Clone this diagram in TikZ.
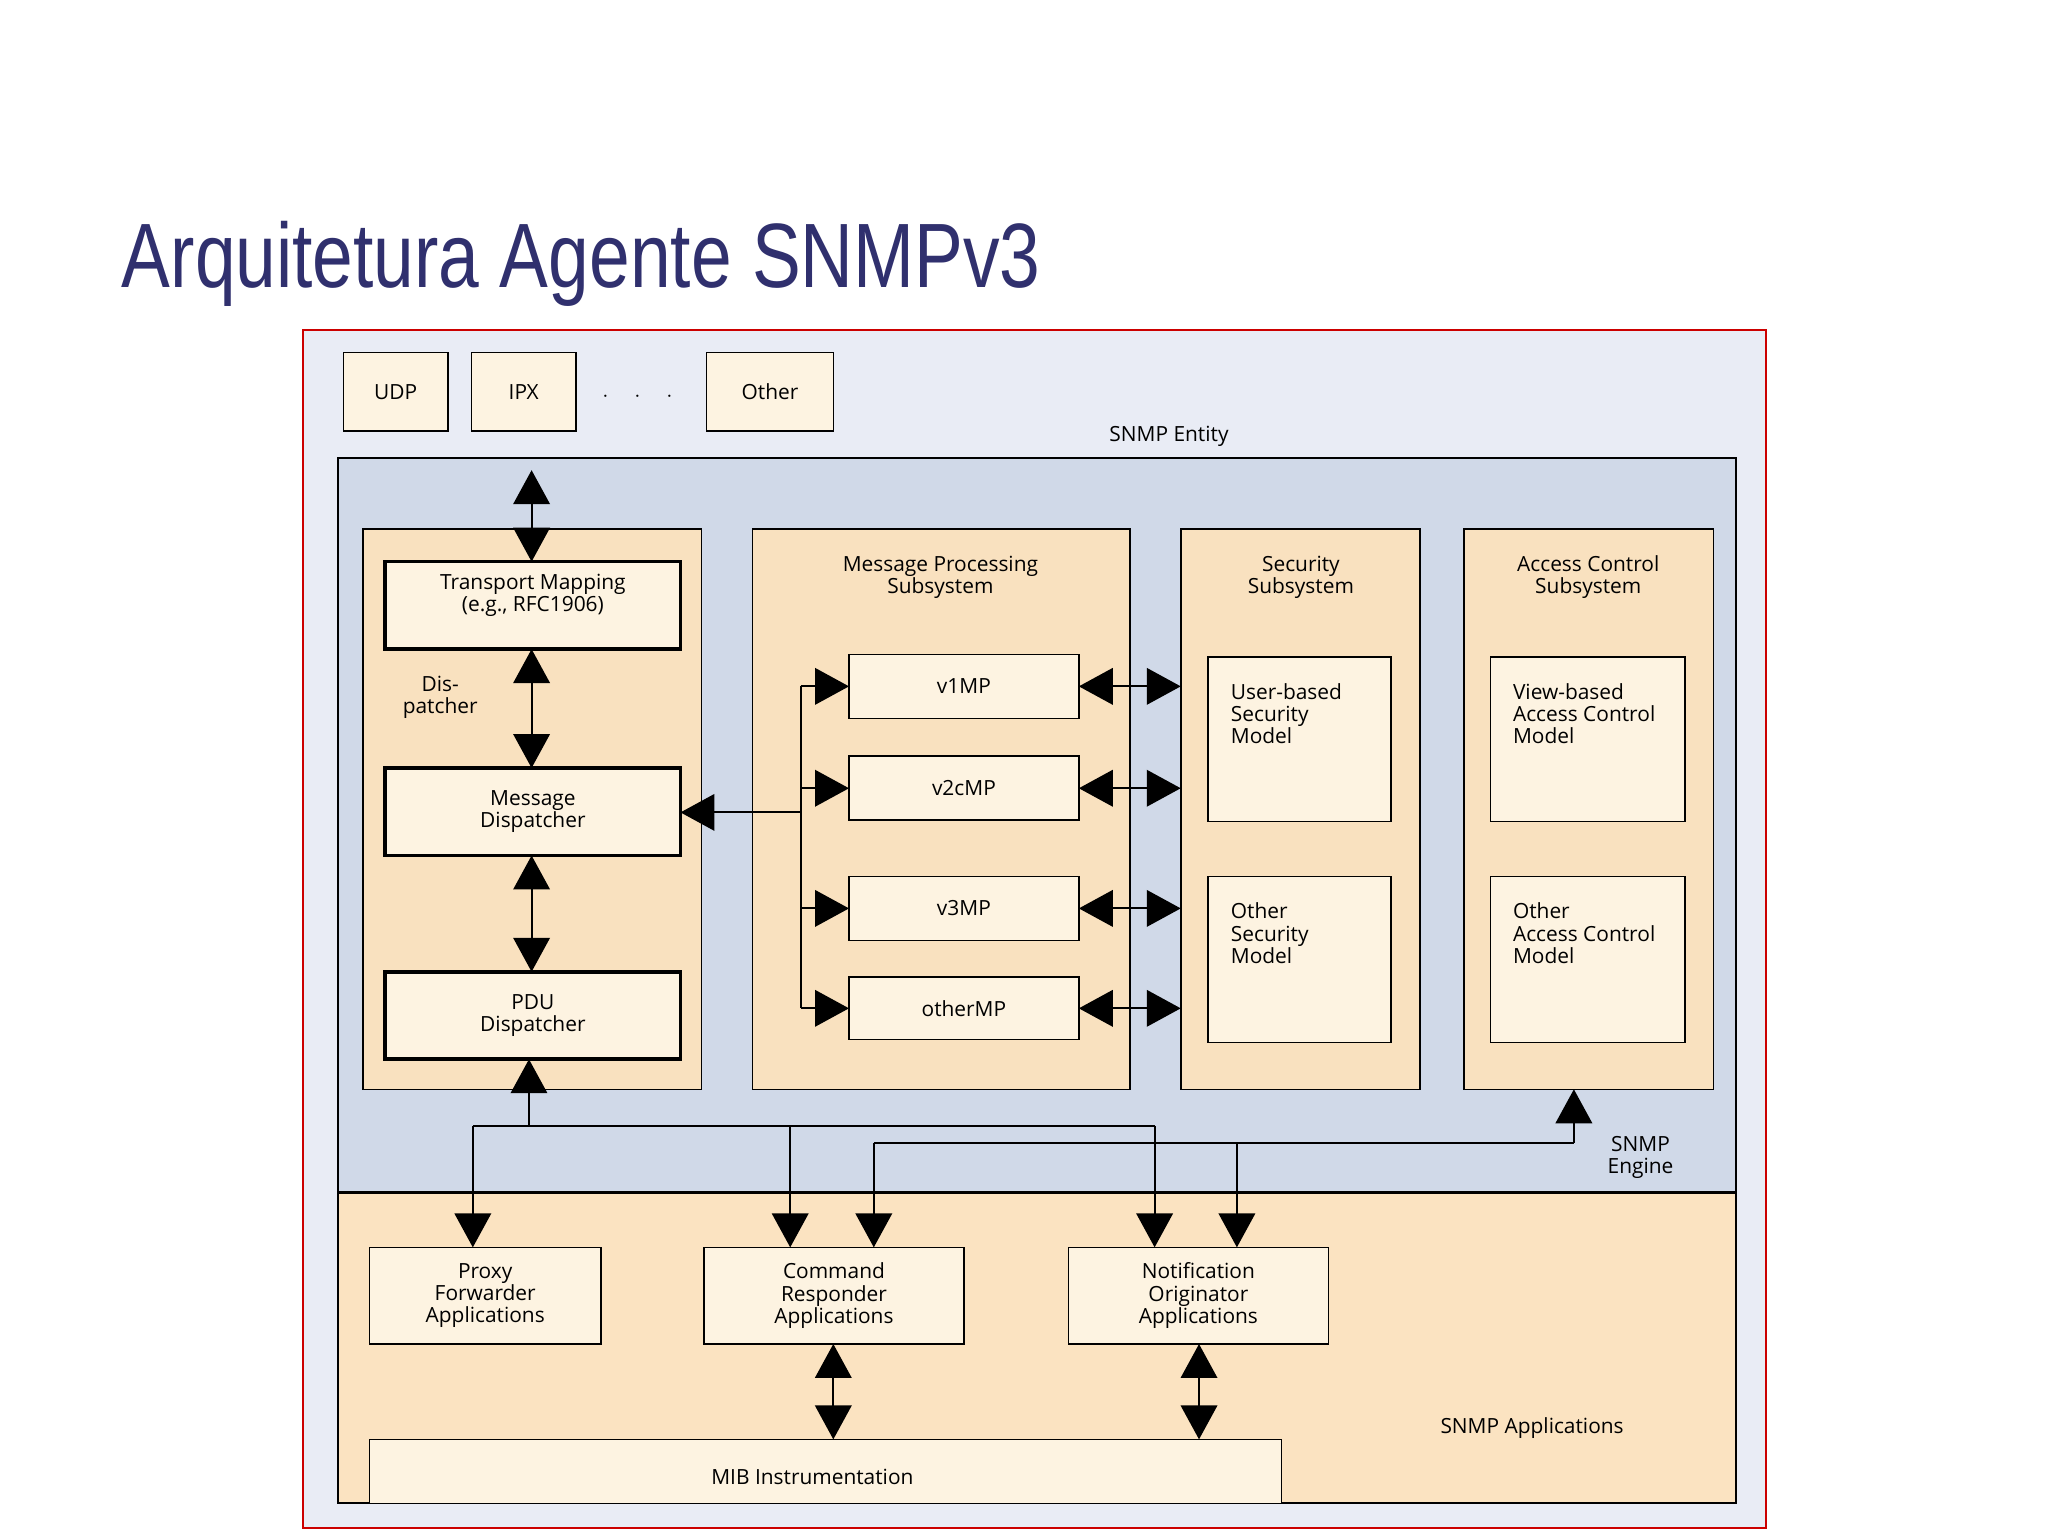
\documentclass[tikz,border=0pt]{standalone}
\usepackage{fontspec}
\setmainfont{Open Sans}
\newfontfamily\titlefont{Liberation Sans}
\usetikzlibrary{arrows.meta}
\definecolor{titlec}{HTML}{30306E}
\definecolor{outerc}{HTML}{E9ECF5}
\definecolor{enginec}{HTML}{D0D9E8}
\definecolor{appc}{HTML}{FBE3C1}
\definecolor{panelc}{HTML}{F9E1BF}
\definecolor{boxc}{HTML}{FDF3E1}
\newcommand\mybox[7]{\node[#1, minimum width={(#5-#3)*0.5pt}, minimum height={(#6-#4)*0.5pt}] (#2) at ({(#3+#5)/2},{(#4+#6)/2}) {#7};}
\tikzset{
 base/.style={draw=black, inner sep=0pt, outer sep=0pt, font=\fontsize{8}{8.5}\selectfont, align=center},
 panel/.style={base, fill=panelc, line width=0.6pt},
 box/.style={base, fill=boxc, line width=0.6pt},
 tbox/.style={base, fill=boxc, line width=1.4pt},
 lbl/.style={font=\fontsize{8}{8.5}\selectfont, align=center, inner sep=0pt},
 lbll/.style={font=\fontsize{8}{8.5}\selectfont, align=left, inner sep=0pt, anchor=north west},
 arr/.style={line width=0.7pt, -{Triangle[width=14pt,length=13pt]}},
 dbl/.style={line width=0.7pt, {Triangle[width=14pt,length=13pt]}-{Triangle[width=14pt,length=13pt]}},
 ln/.style={line width=0.7pt}
}
\begin{document}
\begin{tikzpicture}[x=0.5pt,y=-0.5pt]
\useasboundingbox (0,0) rectangle (1568,1176);
\node[anchor=base west, inner sep=0, text=titlec, font=\titlefont\fontsize{35}{35}\selectfont, xscale=0.8] (title) at (93,220) {Arquitetura Agente SNMPv3};
% outer
\mybox{base, fill=outerc, draw=red!80!black, line width=0.8pt}{outer}{232}{253}{1352}{1170}{}
\mybox{box}{udp}{263}{270}{343}{330}{UDP}
\mybox{box}{ipx}{361}{270}{441}{330}{IPX}
\mybox{box}{oth}{541}{270}{638}{330}{Other}
\node[lbl] (dots) at (488,304) {$\cdot\quad\cdot\quad\cdot$};
\node[lbl] (ent) at (895,334) {SNMP Entity};
\mybox{base, fill=enginec, line width=0.8pt}{engine}{259}{351}{1329}{913}{}
\mybox{base, fill=appc, line width=0.8pt}{apps}{259}{913}{1329}{1151}{}
% panels
\mybox{panel}{disp}{278}{405}{537}{834}{}
\mybox{panel}{mp}{576}{405}{865}{834}{}
\mybox{panel}{sec}{904}{405}{1087}{834}{}
\mybox{panel}{ac}{1121}{405}{1312}{834}{}
\node[lbl] (mpl) at (720,442) {Message Processing\\Subsystem};
\node[lbl] (secl) at (996,442) {Security\\Subsystem};
\node[lbl] (acl) at (1216,442) {Access Control\\Subsystem};
% dispatcher
\mybox{tbox}{tm}{295}{430}{521}{497}{}
\node[lbl] (tml) at (408,456) {Transport Mapping\\(e.g., RFC1906)};
\mybox{tbox}{md}{295}{588}{521}{655}{Message\\Dispatcher}
\mybox{tbox}{pdu}{295}{744}{521}{811}{PDU\\Dispatcher}
\node[lbl] (dl) at (337,534) {Dis-\\patcher};
% MP
\mybox{box}{v1}{650}{501}{826}{550}{v1MP}
\mybox{box}{v2}{650}{579}{826}{628}{v2cMP}
\mybox{box}{v3}{650}{671}{826}{720}{v3MP}
\mybox{box}{vo}{650}{748}{826}{796}{otherMP}
% security
\mybox{box}{usm}{925}{503}{1065}{629}{}
\node[lbll] (usml) at (942,523) {User-based\\Security\\Model};
\mybox{box}{osm}{925}{671}{1065}{798}{}
\node[lbll] (osml) at (942,691) {Other\\Security\\Model};
\mybox{box}{vacm}{1141}{503}{1290}{629}{}
\node[lbll] (vacml) at (1158,523) {View-based\\Access Control\\Model};
\mybox{box}{oacm}{1141}{671}{1290}{798}{}
\node[lbll] (oacml) at (1158,691) {Other\\Access Control\\Model};
\node[lbl] (engl) at (1256,886) {SNMP\\Engine};
% apps
\mybox{box}{prx}{283}{955}{460}{1029}{Proxy\\Forwarder\\Applications}
\mybox{box}{cmd}{539}{955}{738}{1029}{Command\\Responder\\Applications}
\mybox{box}{ntf}{818}{955}{1017}{1029}{Notification\\Originator\\Applications}
\mybox{box}{mib}{283}{1102}{981}{1151}{}
\node[lbl] (mibl) at (622,1131) {MIB Instrumentation};
\node[lbl] (appl) at (1173,1093) {SNMP Applications};
% arrows dispatcher
\coordinate (top) at (407,360);
\draw[dbl] (top) -- (407,430);
\draw[dbl] (407,497) -- (407,588);
\draw[dbl] (407,655) -- (407,744);
% MP bus
\coordinate (b1) at (613,525.5);
\coordinate (b2) at (613,603.5);
\coordinate (bm) at (613,622);
\coordinate (b3) at (613,695.5);
\coordinate (b4) at (613,772);
\draw[ln] (b1) -- (b4);
\draw[arr] (b1) -- (v1.west);
\draw[arr] (b2) -- (v2.west);
\draw[arr] (b3) -- (v3.west);
\draw[arr] (b4) -- (vo.west);
\draw[arr] (bm) -- (bm-|md.east);
\foreach \n in {v1,v2,v3,vo} \draw[dbl] (\n.east) -- (\n.east-|sec.west);
% bottom bus 1
\coordinate (j) at (405,862);
\coordinate (h1) at (362,862);
\coordinate (h2) at (884,862);
\draw[arr] (j) -- (j|-pdu.south);
\draw[ln] (h1) -- (h2);
\draw[arr] (h1) -- (h1|-prx.north);
\draw[arr] (605,862) -- (605,955);
\draw[arr] (h2) -- (h2|-ntf.north);
% bottom bus 2
\coordinate (k) at (1205,875);
\coordinate (k1) at (669,875);
\draw[arr] (k) -- (k|-ac.south);
\draw[ln] (k1) -- (k);
\draw[arr] (k1) -- (k1|-cmd.north);
\draw[arr] (947,875) -- (947,955);
% to MIB
\draw[dbl] (638,1029) -- (638,1102);
\draw[dbl] (918,1029) -- (918,1102);
\end{tikzpicture}
\end{document}
